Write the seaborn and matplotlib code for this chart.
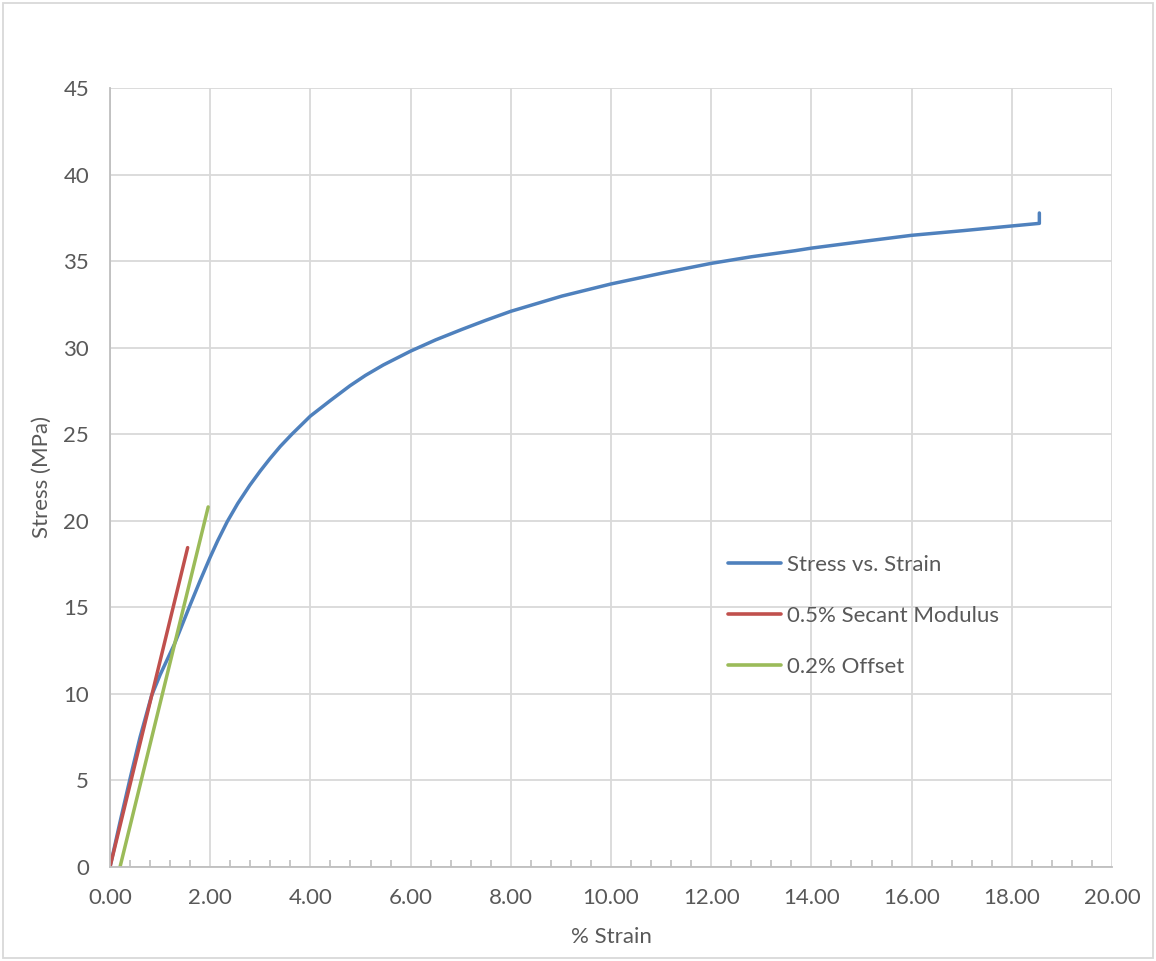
import numpy as np
import pandas as pd
import matplotlib
matplotlib.use("Agg")
import matplotlib.pyplot as plt
import seaborn as sns
from matplotlib.ticker import MultipleLocator, FormatStrFormatter
from matplotlib.patches import Rectangle

# ---- data ----
strain = [0, 0.2, 0.4, 0.6, 0.83, 1.0, 1.29, 1.58, 1.8, 2.0, 2.15, 2.34, 2.55,
          2.79, 3.0, 3.19, 3.4, 3.63, 4.0, 4.4, 4.79, 5.1, 5.455, 6.0, 6.5, 7.02, 7.5,
          8.0, 9.02, 10.0, 11.01, 12.0, 12.8, 13.67, 14.0, 15.04, 16.0, 17.03, 18.0,
          18.55, 18.55]
stress = [0, 2.6, 5.1, 7.5, 9.9, 11.1, 12.9, 15.0, 16.55, 17.9, 18.85, 19.95, 21.0,
          22.05, 22.88, 23.58, 24.3, 25.0, 26.05, 26.95, 27.8, 28.4, 29.0, 29.8, 30.45, 31.05, 31.58,
          32.1, 32.98, 33.68, 34.3, 34.87, 35.25, 35.6, 35.75, 36.14, 36.49, 36.76, 37.03,
          37.18, 37.78]
secant_x = [0.0, 1.55]
secant_y = [0.0, 18.45]
offset_x = [0.2, 1.96]
offset_y = [0.0, 20.8]

labels = ["Stress vs. Strain", "0.5% Secant Modulus", "0.2% Offset"]
colors = ["#4F81BD", "#C0504D", "#9BBB59"]

sns.set_theme(style="white")
plt.rcParams['font.family'] = ['Lato', 'DejaVu Sans']
text_color = "#595959"
fs = 16

fig = plt.figure(figsize=(11.56, 9.61), dpi=100)
ax = fig.add_axes([110/1156, 1-867/961, (1112-110)/1156, (867-88)/961])

df_main = pd.DataFrame({"x": strain, "y": stress})
df_sec = pd.DataFrame({"x": secant_x, "y": secant_y})
df_off = pd.DataFrame({"x": offset_x, "y": offset_y})

sns.lineplot(data=df_main, x="x", y="y", ax=ax, sort=False, estimator=None,
             color=colors[0], linewidth=2.5, label=labels[0])
sns.lineplot(data=df_sec, x="x", y="y", ax=ax, sort=False, estimator=None,
             color=colors[1], linewidth=2.5, label=labels[1])
sns.lineplot(data=df_off, x="x", y="y", ax=ax, sort=False, estimator=None,
             color=colors[2], linewidth=2.5, label=labels[2])
for ln in ax.get_lines():
    ln.set_solid_capstyle("round")
    ln.set_solid_joinstyle("round")

ax.set_xlim(0, 20)
ax.set_ylim(0, 45)
ax.xaxis.set_major_locator(MultipleLocator(2))
ax.xaxis.set_minor_locator(MultipleLocator(0.4))
ax.yaxis.set_major_locator(MultipleLocator(5))
ax.xaxis.set_major_formatter(FormatStrFormatter("%.2f"))

ax.grid(True, which="major", color="#d9d9d9", linewidth=1.3)
ax.set_axisbelow(True)
for s in ["top", "right"]:
    ax.spines[s].set_visible(False)
for s in ["left", "bottom"]:
    ax.spines[s].set_color("#bfbfbf")
    ax.spines[s].set_linewidth(1.3)

ax.tick_params(axis="x", which="minor", direction="in", length=5, width=1.2,
               color="#bfbfbf", bottom=True)
ax.tick_params(axis="x", which="major", length=0, pad=15, labelsize=fs, labelcolor=text_color)
ax.tick_params(axis="y", which="major", length=0, pad=15, labelsize=fs, labelcolor=text_color)

ax.set_xlabel("% Strain", fontsize=fs, color=text_color, labelpad=14)
ax.set_ylabel("Stress (MPa)", fontsize=fs, color=text_color, labelpad=8)

leg = ax.legend(loc="center left", bbox_to_anchor=(0.608, 0.322), frameon=False,
                fontsize=fs, handlelength=2.4, handletextpad=0.25, labelspacing=1.4,
                borderaxespad=0)
for t in leg.get_texts():
    t.set_color(text_color)
for h in leg.get_lines():
    h.set_linewidth(2.6)

fig.patches.append(Rectangle((3/1156, 3/961), 1-6/1156, 1-6/961, transform=fig.transFigure,
                             fill=False, edgecolor="#d9d9d9", linewidth=1.3, zorder=0))

fig.savefig("out.png", dpi=100, facecolor="white")
